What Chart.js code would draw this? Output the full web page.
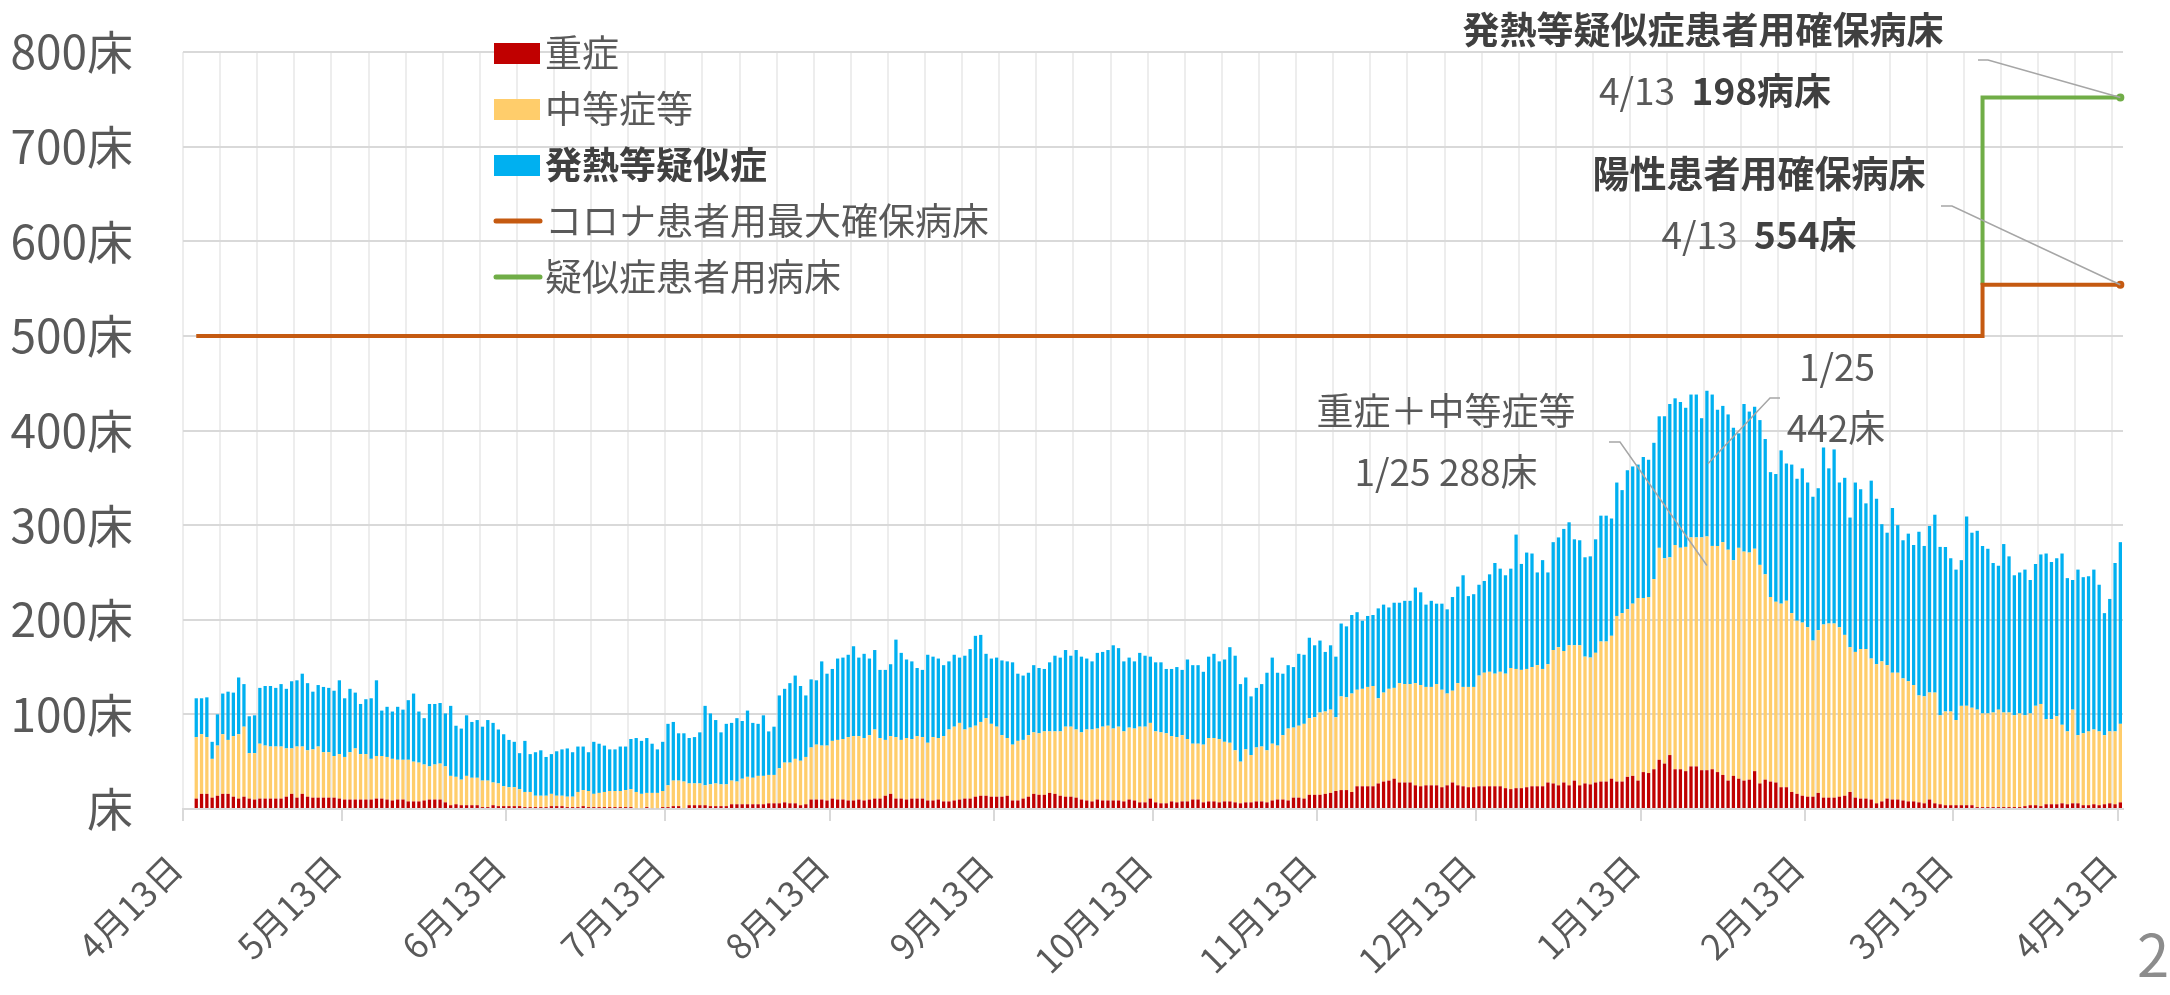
<!DOCTYPE html>
<html lang="ja">
<head>
<meta charset="utf-8">
<title>病床の状況</title>
<script src="https://cdn.jsdelivr.net/npm/chart.js@4.4.1/dist/chart.umd.min.js"></script>
<style>
  html, body { margin: 0; padding: 0; background: #fff; }
  #wrap { width: 2170px; height: 995px; }
</style>
</head>
<body>
<div id="wrap"><canvas id="bedChart" width="2170" height="995"></canvas></div>
<script>
// daily categories, 4/13/2020 .. 4/13/2021
const labels = [];
for (let i = 0; i < 366; i++) {
  const d = new Date(2020, 3, 13 + i);
  labels.push(`${d.getMonth() + 1}月${d.getDate()}日`);
}

// 重症 (beds), data starts 4/15
const severe = [null, null,
  11,16,16,12,14,16,16,13,11,13, 11,10,11,11,11,11,11,13,16,12, 16,13,12,12,12,12,12,11,10,10,
  10,10,10,10,11,11,10,9,10,10, 8,8,8,9,10,10,10,7,4,5, 4,4,4,4,2,2,4,3,3,3,
  3,3,2,2,2,2,2,3,3,3, 2,2,2,3,2,2,2,2,2,2, 2,2,2,1,1,2,1,1,2,2,
  3,3,1,4,4,4,4,3,3,3, 3,5,5,5,5,5,5,5,6,6, 6,7,6,6,4,5,10,10,10,9,
  11,10,10,9,9,10,9,10,11,11, 14,16,11,11,10,11,11,11,9,9, 10,8,8,9,10,11,11,13,14,14,
  13,13,13,14,9,9,11,13,16,15, 15,17,16,14,13,13,12,10,9,8, 10,9,9,9,9,8,10,9,7,7,
  11,7,6,6,
  8,7,8,8,10,10,7,8,8,7, 8,8,7,6,7,7,8,8,7,9, 10,10,9,12,12,11,15,15,15,16,
  17,19,20,20,18,24,24,24,24,27, 29,30,32,28,28,28,
  25,24,25,25,25,23,25,28,25,24, 23,23,24,24,24,24,24,22,21,22, 22,23,24,24,24,28,27,25,28,25,
  30,25,27,26,28,29,29,32,29,29, 34,35,30,39,38,42,52,
  48,57,42,42,40,45,45,41,41,42, 39,36,30,35,32,30,31,40,27,31, 29,28,23,23,18,16,14,13,13,17,
  12,12,12,13,14,18,12,11,11,10, 6,8,11,10,10,9,8,8,7,6, 10,6,5,4,4,4,4,4,4,2,
  2,2,2,2,2,2,2,2,3,4, 4,3,5,5,5,6,5,6,6,4, 4,5,4,5,6,5,7
];

// 中等症等
const moderate = [null, null,
  65,63,60,41,53,63,57,64,68,74, 48,49,58,56,55,55,55,51,48,54, 50,49,51,54,48,48,44,47,45,50,
  54,48,48,43,45,45,45,44,42,42, 44,42,41,38,35,37,38,38,31,29, 27,31,29,29,28,28,24,24,21,20,
  20,18,16,16,12,12,12,13,11,11, 11,11,16,17,17,14,15,16,17,17, 17,18,19,17,15,15,16,16,17,23,
  27,27,28,23,23,23,21,23,24,23, 23,25,24,27,29,28,30,30,30,30, 37,42,43,47,47,50,55,58,57,58,
  61,63,64,67,68,67,66,68,73,64, 59,61,65,62,65,63,66,65,61,67, 65,69,76,78,81,73,75,75,78,82,
  77,74,65,61,59,63,62,65,65,65, 67,65,66,68,74,74,72,71,75,76, 75,78,79,76,78,74,76,76,80,80,
  80,75,75,74,
  69,69,70,66,59,59,61,67,67,67, 63,62,55,44,56,50,57,58,55,60, 57,68,76,74,76,79,81,82,87,87,
  88,78,99,98,104,102,103,105,106,90, 94,97,96,105,104,104,
  108,107,104,104,107,103,97,97,108,105, 106,106,117,120,121,119,121,121,128,126,
  125,125,126,128,124,125,141,146,139,148, 143,148,134,134,137,148,148,151,175,178,
  177,182,193,184,186,201,224,
  217,209,237,234,237,242,242,246,247,236, 239,246,244,228,244,242,240,235,231,217,
  195,191,194,197,189,183,183,179,165,172, 183,184,184,179,170,153,154,158,158,149,
  147,148,141,134,134,129,127,123,113,113, 113,117,94,99,99,90,105,105,103,103,
  99,99,100,103,100,100,97,99,96,97, 105,108,90,90,93,83,77,99,72,76, 78,79,78,73,76,77,83
];

// 発熱等疑似症
const suspected = [null, null,
  41,38,42,18,33,43,51,46,60,45, 39,40,59,63,64,62,66,63,71,70, 77,71,61,65,69,68,69,78,62,67,
  59,53,58,64,80,48,53,50,56,53, 63,72,54,49,66,64,64,56,74,54, 54,64,59,61,57,64,63,57,55,50,
  48,38,54,40,46,48,41,42,47,49, 51,47,48,46,41,55,52,49,44,44, 47,46,53,57,56,58,52,46,52,65,
  62,50,51,48,49,54,84,75,67,55, 64,61,67,61,70,58,55,64,46,51, 77,78,84,88,79,65,72,68,89,76,
  76,86,86,87,95,83,89,81,84,72, 74,76,103,92,83,82,72,71,93,85, 84,75,72,76,69,78,83,95,92,68,
  69,73,79,81,87,71,68,66,71,69, 66,73,80,78,81,75,84,80,75,72, 80,79,80,88,83,74,74,71,78,75,
  70,73,74,68,
  71,74,69,84,83,83,77,86,89,82, 87,101,100,82,76,62,63,66,82,91, 77,65,67,64,76,73,85,76,76,63,
  68,64,77,75,83,82,72,75,75,95, 93,86,90,85,88,88,
  101,98,87,91,85,91,89,99,102,118, 96,98,96,97,103,117,109,104,105,142,
  112,123,120,98,115,97,114,116,129,130, 112,111,105,107,120,133,133,124,141,130,
  147,145,141,149,145,144,139,
  150,162,155,154,147,151,151,126,154,160, 144,144,143,140,121,156,149,150,153,143,
  132,135,162,145,157,150,163,153,152,150, 187,164,184,153,166,137,179,169,154,188,
  175,145,140,174,156,146,156,148,173,159, 176,188,178,174,162,159,154,200,185,189,
  177,174,158,152,178,165,148,149,154,141, 150,158,175,166,167,181,162,137,175,165,
  164,169,155,129,140,178,192
];

// bed capacity lines: [first day, beds]
const coronaBedSteps = [['4月15日', 500], ['3月19日', 554]];
const suspectBedSteps = [['3月18日', 554], ['3月19日', 752]];
const peakDay = '1月25日';

function stepSeries(steps) {
  const starts = steps.map(([day, beds]) => [labels.indexOf(day), beds]);
  return labels.map((_, i) => {
    let v = null;
    starts.forEach(([s, b]) => { if (i >= s) v = b; });
    return v;
  });
}

const FONT = "'Noto Sans CJK JP', 'Noto Sans', sans-serif";
const TEXT = '#595959';
const lastIdx = labels.length - 1;
const endDot = c => (c.dataIndex === lastIdx ? 2 : 0);

// legend drawn inside the plot, third item in bold
const sideLegend = {
  id: 'sideLegend',
  afterDraw(chart) {
    const { ctx } = chart;
    const left = 494, top = 53, step = 56;
    chart.data.datasets.forEach((ds, i) => {
      const y = top + i * step;
      ctx.save();
      if (ds.type === 'line') {
        ctx.strokeStyle = ds.borderColor;
        ctx.lineWidth = 5;
        ctx.lineCap = 'round';
        ctx.beginPath();
        ctx.moveTo(left + 2, y);
        ctx.lineTo(left + 46, y);
        ctx.stroke();
      } else {
        ctx.fillStyle = ds.backgroundColor;
        ctx.fillRect(left, y - 10, 46, 21);
      }
      ctx.font = `${ds.legendBold ? 'bold ' : ''}37px ${FONT}`;
      ctx.fillStyle = ds.legendBold ? '#404040' : TEXT;
      ctx.textBaseline = 'middle';
      ctx.fillText(ds.label, left + 51, y);
      ctx.restore();
    });
  }
};

function drawRuns(ctx, runs, cx, cy) {
  const fonts = runs.map(r => `${r.bold ? 'bold ' : ''}37px ${FONT}`);
  let total = 0;
  const widths = runs.map((r, i) => { ctx.font = fonts[i]; const w = ctx.measureText(r.text).width; total += w; return w; });
  let x = cx - total / 2;
  ctx.textBaseline = 'middle';
  ctx.textAlign = 'left';
  runs.forEach((r, i) => {
    ctx.font = fonts[i];
    ctx.fillStyle = r.bold ? '#404040' : TEXT;
    ctx.fillText(r.text, x, cy);
    x += widths[i];
  });
}

function leader(ctx, pts) {
  ctx.strokeStyle = '#a6a6a6';
  ctx.lineWidth = 1.5;
  ctx.beginPath();
  ctx.moveTo(pts[0][0], pts[0][1]);
  pts.slice(1).forEach(p => ctx.lineTo(p[0], p[1]));
  ctx.stroke();
}

const callouts = {
  id: 'callouts',
  afterDatasetsDraw(chart) {
    const { ctx, scales: { x, y } } = chart;
    const peak = labels.indexOf(peakDay);
    const peakMid = severe[peak] + moderate[peak];
    const peakAll = peakMid + suspected[peak];
    const corona = chart.data.datasets[3].data[lastIdx];
    const suspect = chart.data.datasets[4].data[lastIdx];
    const xEnd = x.getPixelForValue(lastIdx);
    const xPeak = x.getPixelForValue(peak);
    ctx.save();
    leader(ctx, [[1978, 60], [1988, 60], [xEnd, y.getPixelForValue(suspect)]]);
    leader(ctx, [[1941, 206], [1952, 206], [xEnd, y.getPixelForValue(corona)]]);
    leader(ctx, [[1609, 442], [1620, 442], [xPeak, y.getPixelForValue(peakMid) + 29]]);
    leader(ctx, [[1780, 398], [1770, 398], [xPeak + 1, y.getPixelForValue(peakAll) + 73]]);

    drawRuns(ctx, [{ text: '発熱等疑似症患者用確保病床', bold: true }], 1703, 30);
    drawRuns(ctx, [{ text: '4/13  ' }, { text: '198病床', bold: true }], 1715, 91);
    drawRuns(ctx, [{ text: '陽性患者用確保病床', bold: true }], 1759, 174);
    drawRuns(ctx, [{ text: '4/13  ' }, { text: '554床', bold: true }], 1759, 235);
    drawRuns(ctx, [{ text: '重症＋中等症等' }], 1446, 411);
    drawRuns(ctx, [{ text: '1/25 288床' }], 1446, 472);
    drawRuns(ctx, [{ text: '1/25' }], 1837, 367);
    drawRuns(ctx, [{ text: '442床' }], 1836, 428);

    // page number
    ctx.font = `58px ${FONT}`;
    ctx.fillStyle = '#8c8c8c';
    ctx.textAlign = 'center';
    ctx.textBaseline = 'middle';
    ctx.fillText('2', 2153, 955);
    ctx.restore();
  }
};

const ctx = document.getElementById('bedChart').getContext('2d');

const bedChart = new Chart(ctx, {
  data: {
    labels: labels,
    datasets: [
      { type: 'bar', label: '重症', data: severe, backgroundColor: '#C00000', stack: 'patients', order: 1 },
      { type: 'bar', label: '中等症等', data: moderate, backgroundColor: '#FFCD6B', stack: 'patients', order: 1 },
      { type: 'bar', label: '発熱等疑似症', data: suspected, backgroundColor: '#00B0F0', stack: 'patients', order: 1, legendBold: true },
      {
        type: 'line', label: 'コロナ患者用最大確保病床', data: stepSeries(coronaBedSteps),
        borderColor: '#C55A11', backgroundColor: '#C55A11', borderWidth: 4, stepped: 'after',
        pointRadius: endDot, stack: 'corona', order: 0
      },
      {
        type: 'line', label: '疑似症患者用病床', data: stepSeries(suspectBedSteps),
        borderColor: '#70AD47', backgroundColor: '#70AD47', borderWidth: 4, stepped: 'after',
        pointRadius: endDot, stack: 'suspect', order: 0
      }
    ]
  },
  options: {
    responsive: false,
    animation: false,
    devicePixelRatio: 1,
    layout: { padding: { top: 52, right: 47, left: 0, bottom: 0 } },
    datasets: { bar: { barPercentage: 0.62, categoryPercentage: 1.0 } },
    plugins: {
      legend: { display: false },
      tooltip: { enabled: false }
    },
    scales: {
      x: {
        stacked: true,
        offset: true,
        grid: {
          offset: true,
          lineWidth: 2,
          color: c => (c.index % 7 === 0 ? '#ededed' : 'rgba(0,0,0,0)'),
          tickColor: c => (labels[c.index] && labels[c.index].endsWith('13日') ? '#d9d9d9' : 'rgba(0,0,0,0)'),
          tickLength: 12,
          tickWidth: 2
        },
        border: { color: '#d9d9d9', width: 2 },
        ticks: {
          autoSkip: false,
          minRotation: 45,
          maxRotation: 45,
          padding: 26,
          labelOffset: -10,
          color: TEXT,
          font: { family: FONT, size: 35 },
          callback: (v, i) => (labels[i].endsWith('13日') ? labels[i] : '')
        },
        afterFit(scale) {
          scale.height = 186;
          scale.paddingLeft = 0;
          scale.paddingRight = 0;
        }
      },
      y: {
        stacked: true,
        min: 0,
        max: 800,
        ticks: {
          stepSize: 50,
          padding: 4,
          color: TEXT,
          font: { family: FONT, size: 46 },
          callback: v => (v % 100 ? '' : (v === 0 ? '床' : v + '床'))
        },
        grid: {
          lineWidth: 2,
          drawTicks: true,
          tickLength: 46,
          tickColor: 'rgba(0,0,0,0)',
          color: c => (c.tick && c.tick.value % 100 === 0 ? '#d9d9d9' : '#eeeeee')
        },
        border: { display: false },
        afterFit(scale) { scale.width = 183; }
      }
    }
  },
  plugins: [sideLegend, callouts]
});
</script>
</body>
</html>
